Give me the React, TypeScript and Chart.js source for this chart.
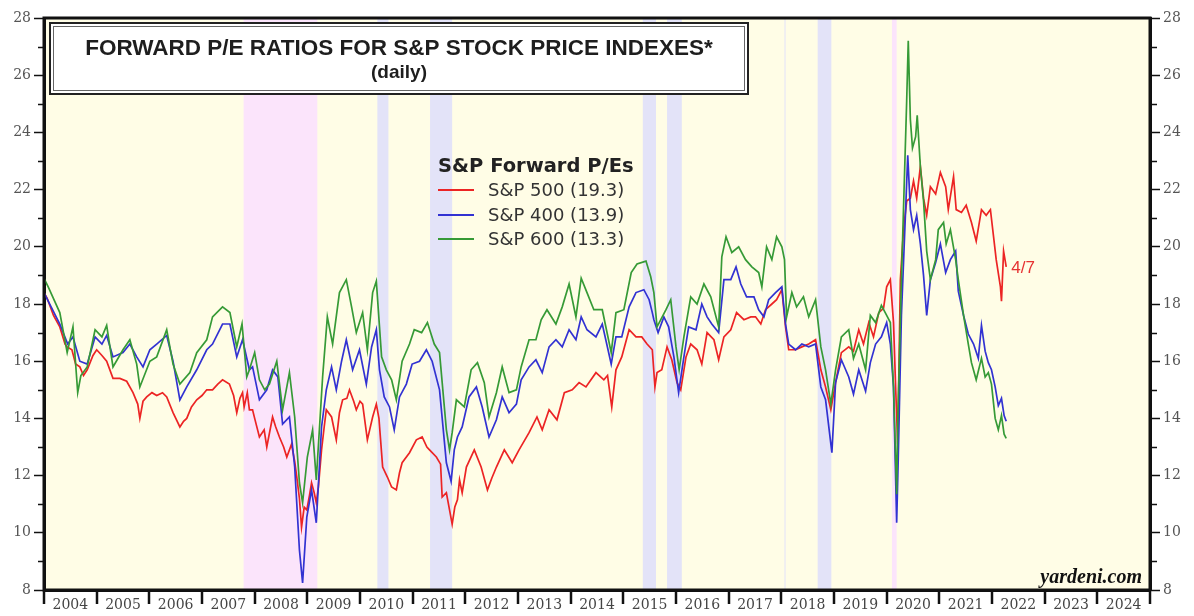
import React, { useEffect, useRef } from "react";
import { Chart, registerables } from "chart.js";

Chart.register(...registerables);

// ---------- data ----------
const YEAR_LABELS = [2004, 2005, 2006, 2007, 2008, 2009, 2010, 2011, 2012, 2013, 2014, 2015, 2016, 2017, 2018, 2019, 2020, 2021, 2022, 2023, 2024];
const YEAR_BOUNDARIES = [2004, 2005, 2006, 2007, 2008, 2009, 2010, 2011, 2012, 2013, 2014, 2015, 2016, 2017, 2018, 2019, 2020, 2021, 2022, 2023, 2024, 2025];
const Y_MAJOR = [8, 10, 12, 14, 16, 18, 20, 22, 24, 26, 28];
const Y_MINOR = [9, 11, 13, 15, 17, 19, 21, 23, 25, 27];

// bear markets (pink) and corrections (lavender), in decimal years
const BEAR_BANDS: [number, number][] = [[2007.79, 2009.19], [2020.10, 2020.19]];
const CORRECTION_BANDS: [number, number][] = [
  [2010.33, 2010.54], [2011.33, 2011.75], [2015.37, 2015.62], [2015.83, 2016.11], [2018.06, 2018.08], [2018.69, 2018.95],
];

// [decimal year, forward P/E]
const SP500: [number, number][] = [
  [2004.00, 18.4], [2004.06, 18.2], [2004.18, 17.6], [2004.30, 17.2], [2004.40, 16.6], [2004.44, 16.5], [2004.53, 16.4],
  [2004.60, 15.9], [2004.68, 15.8], [2004.75, 15.5], [2004.82, 15.7], [2004.93, 16.2], [2005.00, 16.4], [2005.10, 16.2],
  [2005.19, 16.0], [2005.31, 15.4], [2005.44, 15.4], [2005.57, 15.3], [2005.69, 14.9], [2005.78, 14.5], [2005.82, 14.0],
  [2005.88, 14.6], [2005.95, 14.75], [2006.05, 14.9], [2006.14, 14.8], [2006.25, 14.9], [2006.33, 14.75], [2006.45, 14.2],
  [2006.58, 13.7], [2006.65, 13.9], [2006.71, 14.0], [2006.80, 14.4], [2006.90, 14.65], [2007.00, 14.8], [2007.09, 15.0],
  [2007.20, 15.0], [2007.30, 15.2], [2007.39, 15.35], [2007.52, 15.2], [2007.60, 14.8], [2007.66, 14.2], [2007.72, 14.7],
  [2007.77, 14.9], [2007.80, 14.4], [2007.86, 14.9], [2007.90, 14.3], [2007.96, 14.3], [2008.00, 14.0], [2008.09, 13.35],
  [2008.18, 13.6], [2008.23, 13.0], [2008.34, 14.05], [2008.40, 13.7], [2008.47, 13.35], [2008.55, 13.0], [2008.61, 12.65],
  [2008.70, 13.1], [2008.76, 12.5], [2008.80, 11.95], [2008.85, 11.2], [2008.89, 10.2], [2008.94, 10.9], [2008.99, 10.8],
  [2009.04, 11.3], [2009.08, 11.75], [2009.13, 11.4], [2009.17, 11.05], [2009.21, 11.6], [2009.27, 12.9], [2009.32, 13.7],
  [2009.36, 14.3], [2009.46, 14.05], [2009.55, 13.25], [2009.61, 14.2], [2009.67, 14.65], [2009.75, 14.7], [2009.80, 15.0],
  [2009.88, 14.6], [2009.93, 14.3], [2010.00, 14.6], [2010.05, 14.5], [2010.14, 13.25], [2010.24, 14.05], [2010.31, 14.5],
  [2010.36, 14.0], [2010.43, 12.3], [2010.52, 11.95], [2010.60, 11.6], [2010.69, 11.5], [2010.75, 12.1], [2010.80, 12.45],
  [2010.94, 12.8], [2011.07, 13.25], [2011.18, 13.35], [2011.27, 13.0], [2011.32, 12.9], [2011.45, 12.65], [2011.53, 12.4],
  [2011.56, 11.25], [2011.64, 11.4], [2011.70, 10.8], [2011.75, 10.3], [2011.80, 10.9], [2011.85, 11.15], [2011.89, 11.85],
  [2011.94, 11.4], [2012.02, 12.3], [2012.17, 12.9], [2012.30, 12.3], [2012.42, 11.5], [2012.50, 11.9], [2012.59, 12.3],
  [2012.74, 12.9], [2012.89, 12.45], [2013.02, 12.9], [2013.21, 13.5], [2013.36, 14.05], [2013.46, 13.6], [2013.59, 14.3],
  [2013.74, 13.95], [2013.88, 14.9], [2014.03, 15.0], [2014.16, 15.25], [2014.29, 15.1], [2014.48, 15.6], [2014.63, 15.35],
  [2014.70, 15.5], [2014.78, 14.4], [2014.86, 15.7], [2014.97, 16.15], [2015.11, 17.1], [2015.24, 16.85], [2015.35, 16.85],
  [2015.45, 16.6], [2015.55, 16.4], [2015.60, 15.1], [2015.64, 15.6], [2015.73, 15.7], [2015.83, 16.5], [2015.92, 16.05],
  [2016.02, 15.25], [2016.09, 15.0], [2016.19, 16.15], [2016.28, 16.6], [2016.40, 16.4], [2016.49, 15.9], [2016.59, 17.0],
  [2016.72, 16.75], [2016.81, 16.05], [2016.91, 16.85], [2017.04, 17.1], [2017.15, 17.7], [2017.29, 17.45], [2017.42, 17.55],
  [2017.51, 17.55], [2017.61, 17.3], [2017.70, 17.8], [2017.82, 18.0], [2017.91, 18.15], [2018.01, 18.5], [2018.08, 17.2],
  [2018.14, 16.4], [2018.27, 16.4], [2018.39, 16.5], [2018.52, 16.6], [2018.65, 16.75], [2018.75, 15.7], [2018.84, 15.1],
  [2018.94, 14.3], [2019.03, 15.25], [2019.14, 16.3], [2019.28, 16.5], [2019.37, 16.35], [2019.47, 17.1], [2019.56, 16.6],
  [2019.66, 17.35], [2019.75, 16.85], [2019.85, 17.7], [2019.94, 17.85], [2020.00, 18.6], [2020.07, 18.85], [2020.13, 17.35],
  [2020.17, 15.1], [2020.21, 13.1], [2020.26, 18.85], [2020.32, 20.6], [2020.38, 21.6], [2020.45, 21.7], [2020.51, 22.3],
  [2020.57, 21.7], [2020.64, 22.8], [2020.70, 21.7], [2020.76, 21.1], [2020.83, 22.1], [2020.93, 21.85], [2021.02, 22.6],
  [2021.12, 22.1], [2021.17, 21.3], [2021.27, 22.45], [2021.32, 21.3], [2021.42, 21.2], [2021.51, 21.45], [2021.61, 20.85],
  [2021.70, 20.2], [2021.80, 21.3], [2021.89, 21.1], [2021.97, 21.3], [2022.03, 20.35], [2022.08, 19.55], [2022.16, 18.6],
  [2022.18, 18.1], [2022.22, 19.85], [2022.27, 19.3],
];

const SP400: [number, number][] = [
  [2004.00, 18.4], [2004.08, 18.1], [2004.30, 17.3], [2004.45, 16.6], [2004.55, 16.85], [2004.68, 16.0], [2004.82, 15.9],
  [2004.97, 16.85], [2005.10, 16.6], [2005.19, 16.9], [2005.31, 16.15], [2005.50, 16.3], [2005.63, 16.6], [2005.76, 16.15],
  [2005.88, 15.8], [2006.01, 16.4], [2006.14, 16.6], [2006.33, 16.9], [2006.45, 16.0], [2006.58, 14.65], [2006.71, 15.1],
  [2006.90, 15.7], [2007.09, 16.4], [2007.20, 16.6], [2007.39, 17.3], [2007.53, 17.3], [2007.66, 16.15], [2007.77, 16.75],
  [2007.90, 15.7], [2007.96, 15.8], [2008.09, 14.65], [2008.23, 15.0], [2008.34, 15.7], [2008.44, 15.45], [2008.53, 13.8],
  [2008.66, 14.05], [2008.76, 12.3], [2008.85, 9.4], [2008.91, 8.25], [2008.99, 10.55], [2009.08, 11.5], [2009.17, 10.35],
  [2009.27, 13.7], [2009.36, 15.0], [2009.46, 15.8], [2009.55, 15.0], [2009.65, 16.0], [2009.74, 16.75], [2009.86, 15.7],
  [2009.99, 16.4], [2010.12, 15.2], [2010.22, 16.5], [2010.31, 17.1], [2010.37, 15.7], [2010.46, 14.75], [2010.56, 14.4],
  [2010.65, 13.6], [2010.75, 14.75], [2010.88, 15.2], [2010.99, 15.9], [2011.13, 16.0], [2011.26, 16.4], [2011.37, 16.0],
  [2011.51, 15.0], [2011.64, 12.45], [2011.73, 11.8], [2011.79, 12.9], [2011.85, 13.35], [2011.94, 13.7], [2012.07, 14.75],
  [2012.21, 15.1], [2012.32, 14.4], [2012.45, 13.35], [2012.59, 13.95], [2012.70, 14.75], [2012.83, 14.2], [2012.97, 14.5],
  [2013.06, 15.35], [2013.21, 15.8], [2013.34, 16.05], [2013.46, 15.6], [2013.59, 16.5], [2013.72, 16.75], [2013.84, 16.5],
  [2013.97, 17.1], [2014.10, 16.75], [2014.20, 17.55], [2014.31, 17.1], [2014.48, 16.85], [2014.60, 17.3], [2014.77, 15.9],
  [2014.86, 16.85], [2014.97, 16.85], [2015.11, 17.9], [2015.24, 18.4], [2015.39, 18.5], [2015.49, 18.15], [2015.55, 17.7],
  [2015.58, 17.45], [2015.66, 17.0], [2015.77, 17.55], [2015.86, 17.2], [2015.96, 16.15], [2016.05, 14.9], [2016.15, 16.15],
  [2016.24, 17.2], [2016.38, 17.1], [2016.49, 18.0], [2016.59, 17.55], [2016.68, 17.3], [2016.81, 17.0], [2016.91, 18.85],
  [2017.04, 18.85], [2017.14, 19.3], [2017.23, 18.7], [2017.34, 18.25], [2017.48, 18.25], [2017.57, 17.8], [2017.67, 17.55],
  [2017.76, 18.15], [2017.89, 18.4], [2018.01, 18.6], [2018.08, 17.3], [2018.14, 16.6], [2018.27, 16.4], [2018.39, 16.6],
  [2018.52, 16.5], [2018.65, 16.6], [2018.75, 15.1], [2018.84, 14.65], [2018.96, 12.8], [2019.03, 15.25], [2019.14, 16.05],
  [2019.28, 15.45], [2019.37, 14.85], [2019.47, 15.7], [2019.60, 14.95], [2019.69, 15.95], [2019.79, 16.6], [2019.90, 16.85],
  [2020.00, 17.35], [2020.07, 16.6], [2020.13, 15.1], [2020.19, 10.35], [2020.22, 12.6], [2020.28, 17.6], [2020.36, 21.3],
  [2020.40, 23.2], [2020.45, 21.3], [2020.51, 20.6], [2020.57, 21.1], [2020.64, 20.1], [2020.70, 19.0], [2020.76, 17.6],
  [2020.83, 18.85], [2020.93, 19.45], [2021.02, 20.1], [2021.12, 19.1], [2021.21, 19.55], [2021.31, 19.85], [2021.36, 18.45],
  [2021.46, 17.6], [2021.55, 16.95], [2021.65, 16.6], [2021.74, 16.1], [2021.80, 17.25], [2021.87, 16.35], [2021.93, 15.95],
  [2021.99, 15.7], [2022.06, 15.1], [2022.12, 14.45], [2022.18, 14.7], [2022.23, 14.1], [2022.27, 13.9],
];

const SP600: [number, number][] = [
  [2004.00, 18.9], [2004.08, 18.6], [2004.30, 17.7], [2004.44, 16.3], [2004.55, 17.2], [2004.64, 14.9], [2004.70, 15.5],
  [2004.82, 15.8], [2004.97, 17.1], [2005.10, 16.85], [2005.19, 17.25], [2005.31, 15.8], [2005.50, 16.4], [2005.63, 16.75],
  [2005.76, 15.9], [2005.82, 15.1], [2006.01, 16.0], [2006.14, 16.15], [2006.33, 17.1], [2006.45, 15.9], [2006.58, 15.2],
  [2006.77, 15.6], [2006.90, 16.3], [2007.09, 16.75], [2007.20, 17.55], [2007.39, 17.9], [2007.53, 17.7], [2007.66, 16.5],
  [2007.76, 17.3], [2007.85, 15.45], [2007.90, 15.7], [2008.00, 16.3], [2008.09, 15.35], [2008.19, 15.0], [2008.28, 15.2],
  [2008.42, 16.0], [2008.53, 14.3], [2008.66, 15.6], [2008.76, 14.05], [2008.85, 11.75], [2008.91, 11.05], [2009.00, 12.65],
  [2009.10, 13.6], [2009.17, 11.85], [2009.29, 15.45], [2009.38, 17.55], [2009.48, 16.6], [2009.61, 18.4], [2009.74, 18.85],
  [2009.84, 17.9], [2009.93, 17.0], [2010.05, 17.7], [2010.14, 16.4], [2010.24, 18.4], [2010.31, 18.8], [2010.41, 16.15],
  [2010.50, 15.7], [2010.60, 15.35], [2010.69, 14.65], [2010.80, 16.0], [2010.94, 16.6], [2011.03, 17.1], [2011.17, 17.0],
  [2011.28, 17.35], [2011.41, 16.6], [2011.51, 16.3], [2011.64, 13.6], [2011.70, 12.9], [2011.75, 13.5], [2011.83, 14.65],
  [2011.98, 14.4], [2012.11, 15.7], [2012.23, 15.95], [2012.36, 15.25], [2012.45, 14.05], [2012.59, 14.9], [2012.70, 15.8],
  [2012.83, 14.9], [2012.97, 15.0], [2013.06, 15.8], [2013.21, 16.75], [2013.34, 16.75], [2013.44, 17.45], [2013.55, 17.8],
  [2013.72, 17.3], [2013.84, 17.9], [2013.97, 18.7], [2014.10, 17.55], [2014.20, 18.9], [2014.31, 18.4], [2014.44, 17.8],
  [2014.60, 17.8], [2014.77, 16.3], [2014.86, 17.7], [2015.01, 17.8], [2015.15, 19.1], [2015.26, 19.4], [2015.43, 19.5],
  [2015.52, 18.95], [2015.58, 18.4], [2015.64, 17.2], [2015.81, 17.8], [2015.90, 18.15], [2016.00, 16.5], [2016.06, 15.7],
  [2016.15, 16.85], [2016.28, 18.25], [2016.40, 18.0], [2016.53, 18.7], [2016.66, 18.25], [2016.81, 17.2], [2016.87, 19.65],
  [2016.95, 20.35], [2017.06, 19.8], [2017.19, 20.0], [2017.32, 19.55], [2017.44, 19.3], [2017.57, 19.1], [2017.63, 18.6],
  [2017.72, 20.0], [2017.82, 19.55], [2017.91, 20.35], [2018.01, 20.0], [2018.06, 19.55], [2018.10, 17.55], [2018.20, 18.4],
  [2018.29, 17.9], [2018.42, 18.25], [2018.52, 17.55], [2018.65, 18.15], [2018.75, 16.5], [2018.84, 15.7], [2018.94, 14.5],
  [2019.03, 15.7], [2019.14, 16.85], [2019.28, 17.1], [2019.37, 16.1], [2019.47, 16.6], [2019.60, 15.7], [2019.69, 17.6],
  [2019.79, 17.35], [2019.90, 17.95], [2020.00, 17.6], [2020.07, 17.35], [2020.13, 15.1], [2020.19, 11.35], [2020.21, 13.85],
  [2020.28, 18.85], [2020.34, 22.6], [2020.38, 25.1], [2020.41, 27.2], [2020.45, 24.45], [2020.49, 23.45], [2020.55, 23.85],
  [2020.58, 24.6], [2020.64, 22.8], [2020.70, 21.6], [2020.76, 19.85], [2020.83, 18.85], [2020.93, 19.55], [2020.98, 20.6],
  [2021.08, 20.85], [2021.13, 20.1], [2021.21, 20.6], [2021.31, 19.55], [2021.36, 18.85], [2021.46, 17.6], [2021.55, 16.6],
  [2021.61, 15.95], [2021.70, 15.35], [2021.80, 16.1], [2021.87, 15.45], [2021.93, 15.6], [2021.99, 15.2], [2022.06, 14.0],
  [2022.12, 13.6], [2022.18, 14.1], [2022.23, 13.45], [2022.27, 13.3],
];

const SERIES_NAMES = ["S&P 500 (19.3)", "S&P 400 (13.9)", "S&P 600 (13.3)"];
const SERIES_COLORS = ["#ec2424", "#3232d2", "#369a36"];
const TITLE = "FORWARD P/E RATIOS FOR S&P STOCK PRICE INDEXES*";
const SUBTITLE = "(daily)";
const LEGEND_TITLE = "S&P Forward P/Es";
const LAST_DATE_LABEL = "4/7";
const SOURCE = "yardeni.com";

const toPoints = (arr: [number, number][]) => arr.map(([x, y]) => ({ x, y }));

const decorPlugin = {
  id: "decor",
  beforeDraw(chart: any) {
    const { ctx, chartArea: a, scales } = chart;
    const xs = scales.x;
    ctx.save();
    ctx.fillStyle = "#ffffff";
    ctx.fillRect(0, 0, chart.width, chart.height);
    ctx.fillStyle = "#fffde6";
    ctx.fillRect(a.left, a.top, a.right - a.left, a.bottom - a.top);
    const band = (b: [number, number], color: string) => {
      const x0 = xs.getPixelForValue(b[0]);
      const x1 = xs.getPixelForValue(b[1]);
      ctx.fillStyle = color;
      ctx.fillRect(x0, a.top, Math.max(1, x1 - x0), a.bottom - a.top);
    };
    BEAR_BANDS.forEach((b) => band(b, "#fbe4fb"));
    CORRECTION_BANDS.forEach((b) => band(b, "#e3e3f8"));
    ctx.restore();
  },
  afterDraw(chart: any) {
    const { ctx, chartArea: a, scales } = chart;
    const xs = scales.x;
    const ys = scales.y;
    ctx.save();
    // frame
    ctx.strokeStyle = "#111";
    ctx.lineWidth = 3;
    ctx.strokeRect(a.left, a.top, a.right - a.left, a.bottom - a.top);
    // year boundary ticks
    ctx.lineWidth = 2.5;
    YEAR_BOUNDARIES.forEach((yr) => {
      const px = Math.round(xs.getPixelForValue(yr));
      ctx.beginPath();
      ctx.moveTo(px, a.bottom);
      ctx.lineTo(px, a.bottom + 14);
      ctx.stroke();
    });
    // minor y ticks
    ctx.lineWidth = 1.5;
    Y_MINOR.forEach((v) => {
      const py = Math.round(ys.getPixelForValue(v)) + 0.5;
      ctx.beginPath();
      ctx.moveTo(a.left - 6, py);
      ctx.lineTo(a.left, py);
      ctx.moveTo(a.right, py);
      ctx.lineTo(a.right + 7, py);
      ctx.stroke();
    });

    // title box
    const bx = 50, by = 23, bw = 698, bh = 71;
    ctx.fillStyle = "#ffffff";
    ctx.fillRect(bx, by, bw, bh);
    ctx.strokeStyle = "#222";
    ctx.lineWidth = 2;
    ctx.strokeRect(bx, by, bw, bh);
    ctx.lineWidth = 1;
    ctx.strokeStyle = "#666";
    ctx.strokeRect(bx + 3.5, by + 3.5, bw - 7, bh - 7);
    ctx.fillStyle = "#1e1e1e";
    ctx.textAlign = "center";
    ctx.textBaseline = "alphabetic";
    ctx.font = 'bold 22.5px "Liberation Sans", Arial, sans-serif';
    ctx.fillText(TITLE, bx + bw / 2, 55);
    ctx.font = 'bold 19px "Liberation Sans", Arial, sans-serif';
    ctx.fillText(SUBTITLE, bx + bw / 2, 78);

    // legend
    ctx.textAlign = "left";
    ctx.fillStyle = "#222";
    ctx.font = 'bold 19.5px "DejaVu Sans", sans-serif';
    ctx.fillText(LEGEND_TITLE, 438, 172);
    ctx.font = '18px "DejaVu Sans", sans-serif';
    const rowY = [190, 215, 239];
    SERIES_NAMES.forEach((name, i) => {
      ctx.strokeStyle = SERIES_COLORS[i];
      ctx.lineWidth = 2;
      ctx.beginPath();
      ctx.moveTo(438, rowY[i]);
      ctx.lineTo(474, rowY[i]);
      ctx.stroke();
      ctx.fillStyle = "#333";
      ctx.fillText(name, 488, rowY[i] + 6);
    });

    // last-date label next to S&P 500 end
    const last = SP500[SP500.length - 1];
    ctx.fillStyle = "#e63232";
    ctx.font = '17px "Liberation Sans", Arial, sans-serif';
    ctx.textBaseline = "middle";
    ctx.fillText(LAST_DATE_LABEL, xs.getPixelForValue(last[0]) + 5, ys.getPixelForValue(last[1]) + 1);

    // source
    ctx.textAlign = "right";
    ctx.textBaseline = "alphabetic";
    ctx.fillStyle = "#111";
    ctx.font = 'italic bold 20px "Liberation Serif", "Times New Roman", serif';
    ctx.fillText(SOURCE, 1142, 583);
    ctx.restore();
  },
};

export default function App() {
  const ref = useRef<HTMLCanvasElement | null>(null);
  useEffect(() => {
    if (!ref.current) return;
    const axisFont = { family: '"DejaVu Serif", serif', size: 14 };
    const yAxis = (position: "left" | "right") => ({
      type: "linear" as const,
      position,
      min: 8,
      max: 28,
      afterBuildTicks: (s: any) => {
        s.ticks = Y_MAJOR.map((v) => ({ value: v }));
      },
      afterFit: (s: any) => {
        s.width = 44;
      },
      ticks: { font: axisFont, color: "#555", padding: 3, autoSkip: false },
      grid: { display: true, drawOnChartArea: false, tickLength: 10, tickColor: "#111", tickWidth: 1.5 },
      border: { display: true, color: "#111", width: 3 },
    });
    const chart = new Chart(ref.current, {
      type: "line",
      data: {
        datasets: [
          { label: SERIES_NAMES[0], data: toPoints(SP500), borderColor: SERIES_COLORS[0], order: 3 },
          { label: SERIES_NAMES[1], data: toPoints(SP400), borderColor: SERIES_COLORS[1], order: 2 },
          { label: SERIES_NAMES[2], data: toPoints(SP600), borderColor: SERIES_COLORS[2], order: 1 },
        ].map((d) => ({ ...d, borderWidth: 1.7, pointRadius: 0, tension: 0, fill: false, borderJoinStyle: "miter" as const })),
      },
      options: {
        animation: false,
        responsive: true,
        maintainAspectRatio: false,
        layout: { padding: { top: 18, left: 0, right: 0, bottom: 0 } },
        plugins: { legend: { display: false }, tooltip: { enabled: false }, title: { display: false } },
        scales: {
          x: {
            type: "linear",
            min: 2004,
            max: 2025,
            afterBuildTicks: (s: any) => {
              s.ticks = YEAR_LABELS.map((y) => ({ value: y + 0.5 }));
            },
            afterFit: (s: any) => {
              s.height = 26;
            },
            ticks: {
              font: axisFont,
              color: "#444",
              padding: 7,
              maxRotation: 0,
              autoSkip: false,
              callback: (v: any) => String(Math.floor(Number(v))),
            },
            grid: { display: false, drawTicks: false },
            border: { display: true, color: "#111", width: 3 },
          },
          y: yAxis("left"),
          y2: yAxis("right"),
        },
      },
      plugins: [decorPlugin],
    });
    return () => chart.destroy();
  }, []);
  return (
    <div style={{ position: "absolute", left: 0, top: 0, width: 1194, height: 616, background: "#fff" }}>
      <canvas ref={ref} />
    </div>
  );
}
